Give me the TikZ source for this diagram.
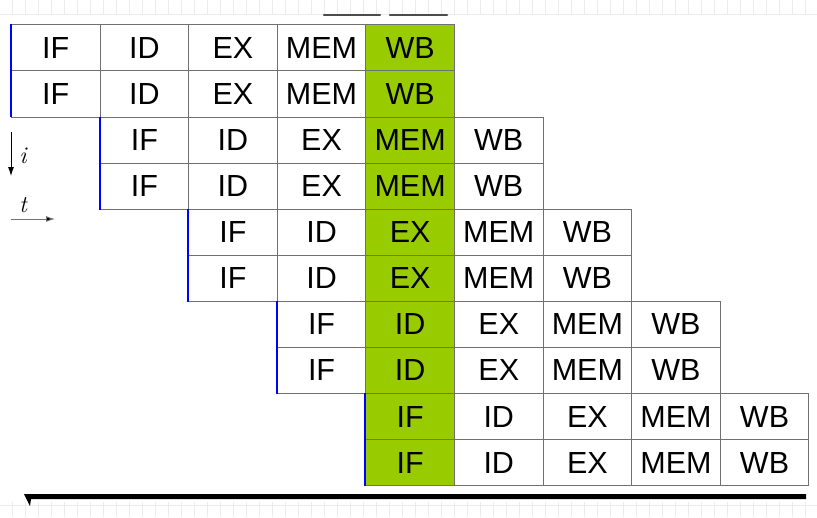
\documentclass[tikz,border=0pt]{standalone}
\usepackage{fontspec}
\setmainfont{Liberation Sans}
\newfontfamily\lmfont{Latin Modern Roman}
\usetikzlibrary{arrows.meta}
\definecolor{verde}{HTML}{99CC00}
\definecolor{borde}{HTML}{707070}
\begin{document}
\begin{tikzpicture}[x=1pt, y=-1pt,
    celda/.style={draw=borde, line width=0.9pt, minimum width=88.6pt, minimum height=46.1pt,
      anchor=north west, inner sep=0pt, font=\fontsize{30.5}{34}\selectfont},
    rejilla/.style={draw=black!8, line width=0.8pt},
    eje/.style={font=\fontsize{24}{26}\selectfont\lmfont\itshape, inner sep=0pt},
    flecha/.style={line width=0.9pt, -{Latex[length=9pt,width=6pt]}}]
    \useasboundingbox (0,0) rectangle (817,517);

    % Fondo cuadriculado (arriba y abajo)
    \foreach \k in {0,...,62} {
        \draw[rejilla] ({12.3+13*\k},0) -- ({12.3+13*\k},15);
        \draw[rejilla] ({12.3+13*\k},502) -- ({12.3+13*\k},517);
    }
    \draw[rejilla] (0,14) -- (817,14);
    \draw[rejilla] (0,505) -- (817,505);
    \draw[line width=2.5pt, black!70, line cap=round] (324,15) -- (380,15);
    \draw[line width=2.5pt, black!70, line cap=round] (390,15) -- (447,15);

    % Celdas del pipeline
    \foreach \r in {1,...,10} {
        \pgfmathtruncatemacro{\p}{(\r-1)/2}
        \foreach \etapa [count=\s] in {IF,ID,EX,MEM,WB} {
            \pgfmathtruncatemacro{\col}{\p+\s-1}
            \pgfmathsetmacro{\cx}{11+88.6*\col}
            \pgfmathsetmacro{\cy}{24.3+46.1*(\r-1)}
            \ifnum\col=4 \def\relleno{verde}\else\def\relleno{white}\fi
            \node[celda, fill=\relleno] (c\r-\s) at (\cx,\cy) {\etapa};
        }
    }

    % Lineas azules de inicio
    \foreach \a/\b in {1/2,3/4,5/6,7/8,9/10}
        \draw[blue, line width=2pt] (c\a-1.north west) -- (c\b-1.south west);

    % Ejes i y t
    \coordinate (i0) at (11,132);
    \coordinate (i1) at (11,176);
    \draw[flecha] (i0) -- (i1);
    \node[eje] (ieje) at (23,156) {i};
    \coordinate (t0) at (11,219);
    \coordinate (t1) at (55,219);
    \draw[flecha, draw=black!55, arrows={-{Latex[length=9pt,width=6pt,fill=black]}}] (t0) -- (t1);
    \node[eje] (teje) at (23,205) {t};

    % Barra inferior
    \fill (806,494) -- (24,494) -- (30,506) -- (31,499) -- (806,499) -- cycle;
\end{tikzpicture}
\end{document}
